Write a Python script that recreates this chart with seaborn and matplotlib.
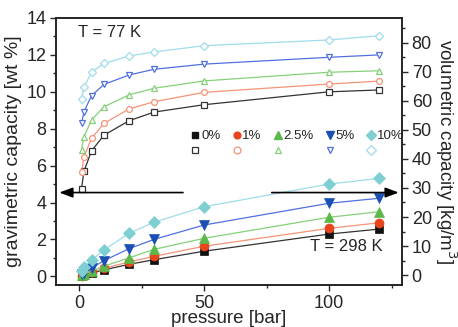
import numpy as np
import pandas as pd
import matplotlib
matplotlib.use("Agg")
import matplotlib.pyplot as plt
from matplotlib.lines import Line2D
from matplotlib.ticker import MultipleLocator
import seaborn as sns

sns.set_style("ticks")
plt.rcParams['font.family'] = ['Liberation Sans', 'DejaVu Sans']

# ---- data ----
pressure = [1, 2, 5, 10, 20, 30, 50, 100, 120]
labels = ["0%", "1%", "2.5%", "5%", "10%"]

k77_0 = [4.75, 5.7, 6.8, 7.65, 8.43, 8.9, 9.3, 10.0, 10.1]
k77_1 = [5.64, 6.48, 7.48, 8.29, 9.07, 9.46, 9.97, 10.42, 10.58]
k77_25 = [6.85, 7.57, 8.47, 9.19, 9.83, 10.19, 10.59, 11.06, 11.14]
k77_5 = [8.29, 8.92, 9.79, 10.4, 10.91, 11.22, 11.5, 11.87, 12.0]
k77_10 = [9.63, 10.24, 11.06, 11.54, 11.94, 12.16, 12.5, 12.81, 13.04]

k298_0 = [0.03, 0.07, 0.17, 0.35, 0.65, 0.9, 1.36, 2.29, 2.56]
k298_1 = [0.04, 0.09, 0.21, 0.43, 0.78, 1.08, 1.63, 2.6, 2.9]
k298_25 = [0.06, 0.12, 0.28, 0.55, 1.0, 1.46, 2.06, 3.2, 3.5]
k298_5 = [0.1, 0.2, 0.45, 0.85, 1.5, 2.0, 2.78, 3.96, 4.23]
k298_10 = [0.3, 0.5, 0.88, 1.43, 2.33, 2.93, 3.77, 5.0, 5.31]

k77 = [k77_0, k77_1, k77_25, k77_5, k77_10]
k298 = [k298_0, k298_1, k298_25, k298_5, k298_10]

# styles
filled_colors = ["#111111", "#e8441e", "#5cb84a", "#1b4fb3", "#7dcfd2"]
open_colors = ["#333333", "#f59477", "#86d07a", "#5070e0", "#9fdcec"]
markers = ["s", "o", "^", "v", "D"]
filled_sizes = [6, 6.5, 7, 7, 6.5]

fig = plt.figure(figsize=(4.58, 3.27), dpi=100)
ax = fig.add_axes([56/458, 1-285/327, 346/458, 267/327])

for i in range(5):
    df77 = pd.DataFrame({"p": pressure, "v": k77[i]})
    sns.lineplot(data=df77, x="p", y="v", ax=ax, color=open_colors[i], lw=0.9,
                 marker=markers[i], markersize=4.2, markerfacecolor="white",
                 markeredgecolor=open_colors[i], markeredgewidth=0.9, legend=False)
for i in range(5):
    df298 = pd.DataFrame({"p": pressure, "v": k298[i]})
    sns.lineplot(data=df298, x="p", y="v", ax=ax, color=open_colors[i], lw=0.9,
                 marker=markers[i], markersize=filled_sizes[i], markerfacecolor=filled_colors[i],
                 markeredgecolor=filled_colors[i], markeredgewidth=0.5, legend=False)

ax.set_xlim(-9.2, 129.2)
ax.set_ylim(-0.47, 14.0)
ax.xaxis.set_major_locator(MultipleLocator(50))
ax.xaxis.set_minor_locator(MultipleLocator(25))
ax.yaxis.set_major_locator(MultipleLocator(2))
ax.yaxis.set_minor_locator(MultipleLocator(1))
ax.tick_params(axis="both", which="major", direction="out", length=4, width=1, labelsize=13, pad=3)
ax.tick_params(axis="both", which="minor", direction="out", length=2.5, width=1)
ax.tick_params(axis="x", which="major", pad=3)
ax.set_xlabel("pressure [bar]", fontsize=13.5, labelpad=-1)
ax.set_ylabel("gravimetric capacity [wt %]", fontsize=14, labelpad=3)
for s in ax.spines.values():
    s.set_linewidth(1.1)
    s.set_color("black")

ax2 = ax.twinx()
ax2.set_ylim(-3.4, 88.5)
ax2.yaxis.set_major_locator(MultipleLocator(10))
ax2.yaxis.set_minor_locator(MultipleLocator(5))
ax2.tick_params(axis="y", which="major", direction="out", length=4, width=1, labelsize=13, pad=3)
ax2.tick_params(axis="y", which="minor", direction="out", length=2.5, width=1)
ax2.set_ylabel("volumetric capacity [kg/m$^3$]", fontsize=13.5, rotation=270, va="bottom", labelpad=1)
for s in ax2.spines.values():
    s.set_linewidth(1.1)

# arrows
ax.annotate("", xy=(-9.0, 4.54), xytext=(42.7, 4.54),
            arrowprops=dict(arrowstyle="-|>,head_length=0.8,head_width=0.3", color="black", lw=1.2))
ax.annotate("", xy=(129.0, 4.54), xytext=(76, 4.54),
            arrowprops=dict(arrowstyle="-|>,head_length=0.8,head_width=0.3", color="black", lw=1.2))

ax.text(0.064, 0.944, "T = 77 K", transform=ax.transAxes, fontsize=12, va="center", ha="left")
ax.text(0.734, 0.143, "T = 298 K", transform=ax.transAxes, fontsize=12, va="center", ha="left")

# legend
handles, labs = [], []
for i in range(5):
    handles.append(Line2D([], [], ls="none", marker=markers[i], markersize=filled_sizes[i] * 0.75,
                          markerfacecolor=filled_colors[i], markeredgecolor=filled_colors[i]))
    labs.append(labels[i])
    handles.append(Line2D([], [], ls="none", marker=markers[i], markersize=5,
                          markerfacecolor="white", markeredgecolor=open_colors[i], markeredgewidth=0.9))
    labs.append("")
ax.legend(handles, labs, ncol=5, loc="upper left", bbox_to_anchor=(0.365, 0.615), frameon=False,
          fontsize=9.5, handlelength=0.6, handletextpad=0.15, columnspacing=0.9, labelspacing=0.25,
          borderpad=0.2)

fig.savefig("out.png", dpi=100)
